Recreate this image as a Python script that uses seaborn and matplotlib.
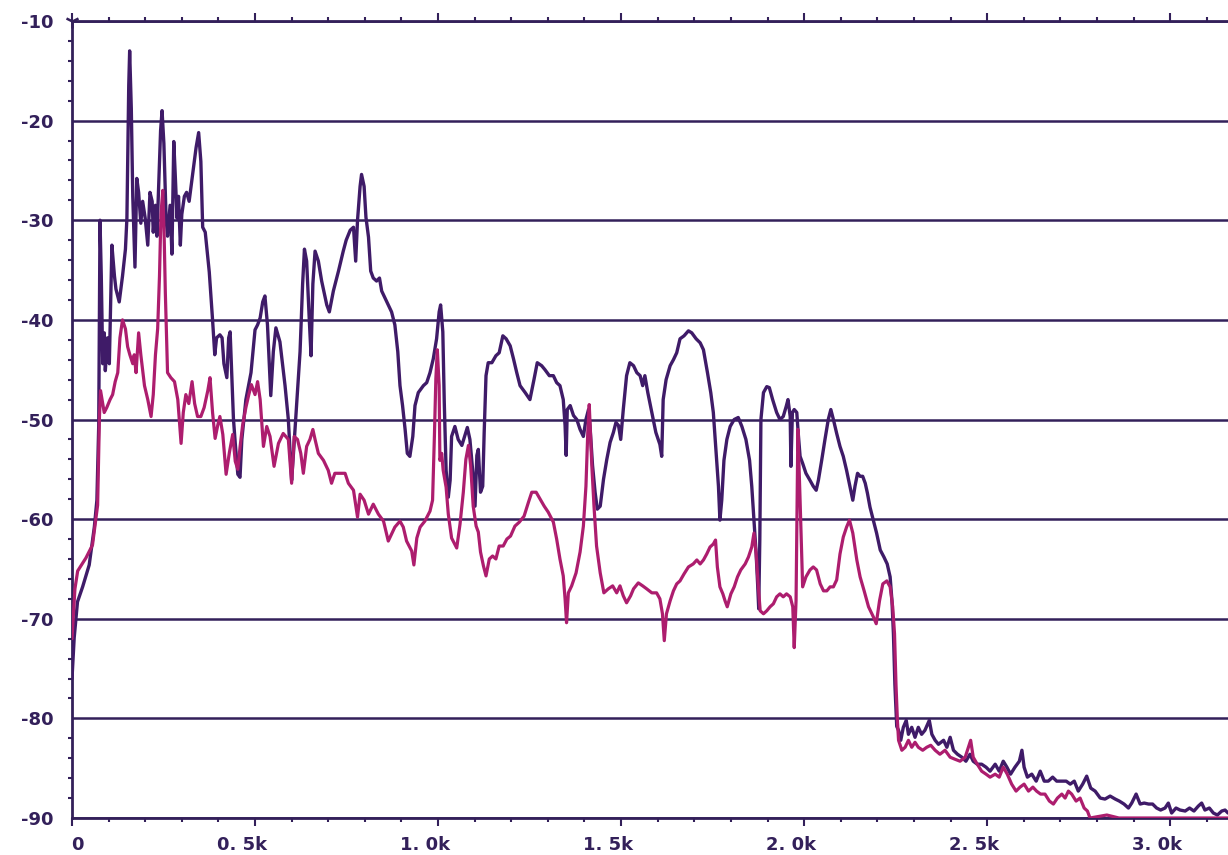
import matplotlib
matplotlib.use("Agg")
import matplotlib.pyplot as plt
import matplotlib.transforms as mtransforms
from matplotlib.ticker import MultipleLocator
import pandas as pd
import seaborn as sns

# upper (dark violet) trace, frequency in Hz / level in dB
freq_a = [0, 6, 15, 29, 47, 61, 68, 73, 75, 76.5, 80, 84, 88, 91, 97, 102, 109, 116, 120, 129,
          138, 146, 150, 155, 157.5, 162, 166, 172, 177, 182, 188, 193, 200, 207, 213, 219, 222,
          228, 232, 237, 242, 246, 251, 257, 261, 268, 273, 278, 282, 287, 291, 296, 300, 307,
          313, 320, 328, 339, 346, 352, 357, 364, 375, 384, 390, 395, 404, 410, 415, 423, 428,
          432, 441, 446, 453, 459, 464, 475, 489, 500, 507, 514, 521, 527, 534, 543, 550, 557,
          568, 582, 591, 600, 605, 614, 623, 630, 635, 641, 648, 653, 658, 664, 673, 682, 696,
          703, 714, 728, 741, 749, 760, 769, 775, 780, 787, 791, 798, 803, 810, 816, 823, 832,
          840, 846, 855, 864, 873, 882, 890, 896, 903, 910, 916, 923, 931, 937, 946, 960, 969,
          978, 987, 996, 1003, 1007, 1013, 1017, 1022, 1028, 1033, 1037, 1046, 1055, 1065, 1080,
          1087, 1095, 1101, 1106, 1110, 1116, 1122, 1126, 1131, 1137, 1147, 1158, 1167, 1177,
          1186, 1197, 1206, 1215, 1224, 1238, 1251, 1262, 1271, 1283, 1292, 1304, 1315, 1324,
          1333, 1342, 1347, 1350, 1353, 1361, 1370, 1379, 1388, 1397, 1404, 1411, 1415, 1422,
          1429, 1435, 1443, 1452, 1461, 1470, 1479, 1486, 1493, 1499, 1506, 1515, 1524, 1534,
          1543, 1552, 1559, 1565, 1573, 1584, 1595, 1606, 1611, 1615, 1623, 1634, 1643, 1652,
          1661, 1672, 1684, 1693, 1705, 1716, 1725, 1736, 1745, 1752, 1759, 1766, 1770, 1775,
          1781, 1789, 1798, 1809, 1820, 1830, 1841, 1851, 1857, 1863, 1869, 1873, 1876, 1879,
          1882, 1889, 1898, 1905, 1914, 1925, 1934, 1943, 1951, 1956, 1962, 1964, 1968, 1973,
          1980, 1984, 1989, 1996, 2005, 2016, 2025, 2033, 2039, 2048, 2057, 2066, 2073, 2080,
          2089, 2098, 2107, 2116, 2125, 2133, 2139, 2146, 2153, 2160, 2167, 2173, 2180, 2189,
          2198, 2208, 2218, 2227, 2235, 2240, 2244, 2248, 2253, 2258, 2264, 2271, 2279, 2285,
          2294, 2303, 2312, 2321, 2330, 2342, 2349, 2358, 2367, 2381, 2390, 2399, 2408, 2419,
          2431, 2442, 2453, 2462, 2473, 2485, 2497, 2508, 2522, 2533, 2544, 2554, 2564, 2576,
          2588, 2595, 2601, 2610, 2622, 2634, 2645, 2656, 2667, 2679, 2690, 2704, 2716, 2727,
          2738, 2749, 2761, 2772, 2783, 2795, 2809, 2822, 2836, 2850, 2861, 2874, 2886, 2895,
          2907, 2918, 2929, 2941, 2952, 2963, 2974, 2986, 2995, 3004, 3016, 3027, 3041, 3053,
          3065, 3077, 3086, 3095, 3107, 3118, 3129, 3141, 3150, 3158]
level_a = [-76, -71.9, -68.3, -66.8, -64.6, -60.8, -58.1, -50.6, -39.1, -30.0, -35.6, -44.4, -41.3,
           -45.1, -41.8, -44.4, -32.5, -35.6, -36.9, -38.2, -35.6, -32.9, -29.8, -16.5, -13.0,
           -18.8, -27.6, -34.7, -25.8, -27.2, -30.3, -28.1, -29.8, -32.5, -27.2, -28.1, -31.2,
           -28.5, -31.6, -26.3, -21.0, -19.0, -22.3, -29.8, -31.6, -28.5, -33.4, -22.1, -25.4,
           -29.8, -27.6, -32.5, -29.4, -27.6, -27.2, -28.1, -25.8, -22.7, -21.2, -24.1, -30.7,
           -31.2, -35.2, -40.0, -43.5, -41.8, -41.5, -41.8, -44.4, -45.8, -41.8, -41.2, -49.9,
           -52.4, -55.5, -55.8, -52.0, -48.0, -45.3, -41.0, -40.5, -39.8, -38.2, -37.6, -40.5,
           -47.6, -43.2, -40.8, -42.2, -46.6, -50.0, -56.1, -53.4, -48.3, -43.2, -36.4, -32.9,
           -34.1, -39.8, -43.6, -36.4, -33.1, -34.1, -36.1, -38.5, -39.2, -37.1, -35.1, -33.1,
           -32.0, -31.0, -30.7, -34.1, -30.0, -26.6, -25.4, -26.6, -29.7, -31.7, -35.1, -35.8,
           -36.1, -35.8, -37.1, -37.8, -38.5, -39.2, -40.5, -43.2, -46.6, -48.6, -51.0, -53.4,
           -53.7, -51.7, -48.6, -47.3, -46.6, -46.3, -45.3, -43.9, -41.9, -39.2, -38.5, -41.2,
           -48.3, -55.1, -57.8, -56.1, -51.7, -50.7, -52.0, -52.6, -50.8, -52.0, -55.3, -58.7,
           -53.6, -53.0, -57.3, -56.7, -51.3, -45.6, -44.3, -44.3, -43.6, -43.3, -41.6, -41.9,
           -42.6, -43.9, -45.3, -46.6, -47.3, -48.0, -46.0, -44.3, -44.6, -45.0, -45.6, -45.6,
           -46.3, -46.6, -48.0, -50.6, -53.6, -49.0, -48.6, -49.6, -50.0, -51.0, -51.7, -50.0,
           -49.0, -50.6, -54.6, -57.3, -59.0, -58.7, -56.0, -54.0, -52.3, -51.3, -50.3, -50.6,
           -52.0, -49.0, -45.6, -44.3, -44.6, -45.3, -45.6, -46.6, -45.6, -47.3, -49.3, -51.3,
           -52.5, -53.7, -48.0, -46.0, -44.6, -44.0, -43.3, -41.9, -41.6, -41.1, -41.3, -41.9,
           -42.3, -43.0, -45.3, -47.3, -49.3, -53.0, -56.7, -60.1, -58.1, -54.1, -52.0, -50.7,
           -50.0, -49.8, -50.7, -52.0, -54.1, -56.7, -60.1, -63.5, -66.5, -69.0, -62.0, -50.0,
           -47.3, -46.7, -46.8, -48.0, -49.3, -50.0, -49.7, -48.7, -48.0, -49.7, -54.7, -49.3,
           -49.0, -49.3, -51.4, -53.7, -54.4, -55.4, -56.1, -56.7, -57.1, -56.1, -54.1, -52.0,
           -50.0, -49.0, -50.0, -51.4, -52.7, -53.7, -55.1, -56.7, -58.1, -56.7, -55.4, -55.7,
           -55.7, -56.4, -57.4, -58.8, -60.1, -61.4, -63.1, -63.8, -64.5, -65.8, -68.2, -71.5,
           -76.6, -80.8, -81.2, -82.2, -80.9, -80.2, -81.6, -80.9, -81.9, -80.9, -81.6, -81.2,
           -80.2, -81.6, -82.2, -82.6, -82.2, -82.9, -81.9, -83.2, -83.6, -83.9, -84.3, -83.6,
           -84.3, -84.6, -84.6, -84.9, -85.3, -84.6, -85.3, -84.3, -84.9, -85.6, -84.9, -84.3,
           -83.2, -84.9, -85.9, -85.6, -86.3, -85.3, -86.3, -86.3, -85.9, -86.3, -86.3, -86.3,
           -86.6, -86.3, -87.3, -86.6, -85.8, -87.0, -87.3, -88.0, -88.1, -87.8, -88.1, -88.3,
           -88.6, -89.0, -88.5, -87.6, -88.6, -88.5, -88.6, -88.6, -89.0, -89.2, -89.0, -88.5,
           -89.5, -89.0, -89.2, -89.3, -89.0, -89.3, -88.8, -88.5, -89.2, -89.0, -89.5, -89.7,
           -89.3, -89.2, -89.5]

# lower (magenta) trace
freq_b = [0, 8, 15.5, 38, 56, 70, 75, 78, 82, 88, 95, 104, 111, 118, 125, 131, 138, 146, 152, 158,
          166, 170, 175, 182, 188, 198, 207, 216, 222, 228, 234, 239, 243, 248, 252, 255, 261, 270,
          280, 289, 298, 304, 311, 319, 328, 335, 343, 352, 361, 371, 377, 384, 391, 398, 404,
          412, 421, 430, 439, 446, 453, 459, 466, 475, 483, 490, 500, 507, 514, 523, 532, 541,
          552, 564, 577, 591, 600, 607, 616, 625, 632, 641, 650, 658, 664, 673, 687, 700, 709,
          718, 732, 746, 755, 769, 780, 787, 798, 810, 823, 837, 851, 864, 873, 882, 896, 905,
          914, 928, 934, 942, 951, 964, 978, 985, 990, 994, 998, 1003, 1005, 1010, 1014, 1022,
          1028, 1037, 1051, 1060, 1069, 1076, 1083, 1089, 1096, 1104, 1110, 1116, 1124, 1131,
          1140, 1149, 1158, 1167, 1178, 1188, 1198, 1210, 1222, 1235, 1247, 1256, 1268, 1279,
          1290, 1301, 1315, 1324, 1333, 1342, 1347, 1351, 1356, 1365, 1377, 1388, 1397, 1404,
          1409, 1413, 1420, 1426, 1433, 1443, 1453, 1465, 1477, 1488, 1497, 1506, 1515, 1526,
          1534, 1547, 1559, 1570, 1584, 1597, 1606, 1613, 1618, 1624, 1634, 1643, 1652, 1661,
          1672, 1684, 1697, 1707, 1716, 1725, 1734, 1743, 1752, 1758, 1763, 1770, 1778, 1784,
          1790, 1800, 1809, 1818, 1827, 1839, 1848, 1857, 1863, 1869, 1875, 1880, 1889, 1898,
          1907, 1916, 1925, 1934, 1943, 1952, 1962, 1969, 1973, 1978, 1981, 1983, 1989, 1996,
          2005, 2016, 2025, 2034, 2044, 2053, 2062, 2071, 2080, 2089, 2098, 2107, 2116, 2124,
          2133, 2144, 2153, 2164, 2176, 2189, 2197, 2206, 2215, 2226, 2235, 2242, 2247, 2251,
          2255, 2258, 2267, 2276, 2285, 2294, 2303, 2312, 2324, 2335, 2346, 2358, 2371, 2385,
          2399, 2412, 2426, 2440, 2449, 2455, 2462, 2473, 2485, 2497, 2508, 2522, 2533, 2544,
          2555, 2567, 2579, 2590, 2601, 2613, 2625, 2635, 2646, 2658, 2670, 2681, 2692, 2704,
          2713, 2722, 2731, 2743, 2754, 2765, 2774, 2781, 2827, 2860, 2950, 3050, 3158]
level_b = [-72, -67, -65.2, -63.9, -62.6, -58.6, -49.7, -47.1, -48.0, -49.3, -48.8, -48.0, -47.5,
           -46.2, -45.3, -41.8, -40.0, -40.9, -42.7, -43.5, -44.4, -43.5, -45.3, -41.3, -43.5,
           -46.6, -48.0, -49.7, -47.5, -43.5, -40.9, -35.6, -29.4, -27.0, -32.0, -37.3, -45.3,
           -45.8, -46.2, -48.0, -52.4, -49.3, -47.5, -48.4, -46.2, -48.4, -49.7, -49.7, -48.8,
           -47.1, -45.8, -49.3, -51.9, -50.6, -49.7, -51.5, -55.5, -53.3, -51.5, -54.2, -55.0,
           -52.8, -50.6, -48.8, -47.5, -46.5, -47.5, -46.2, -48.0, -52.7, -50.7, -51.7, -54.7,
           -52.4, -51.4, -52.0, -56.4, -51.7, -52.0, -53.4, -55.4, -52.7, -52.0, -51.0, -52.0,
           -53.4, -54.1, -55.1, -56.4, -55.4, -55.4, -55.4, -56.4, -57.1, -59.8, -57.5, -58.1,
           -59.5, -58.5, -59.5, -60.2, -62.2, -61.5, -60.8, -60.2, -60.8, -62.2, -63.2, -64.6,
           -61.9, -60.8, -60.2, -59.2, -58.1, -51.7, -45.9, -43.0, -46.6, -54.1, -53.4, -55.1,
           -56.8, -59.5, -61.9, -62.9, -60.5, -57.3, -54.0, -52.6, -54.6, -58.7, -60.7, -61.3,
           -63.3, -64.7, -65.7, -64.0, -63.7, -64.0, -62.7, -62.7, -62.0, -61.7, -60.7, -60.3,
           -59.7, -58.3, -57.3, -57.3, -58.0, -58.7, -59.3, -60.3, -62.0, -64.0, -65.7, -68.0,
           -70.4, -67.4, -66.7, -65.4, -63.3, -60.7, -56.7, -51.3, -48.5, -54.6, -58.7, -62.7,
           -65.4, -67.4, -67.0, -66.7, -67.4, -66.7, -67.7, -68.4, -67.7, -67.0, -66.4, -66.7,
           -67.0, -67.4, -67.4, -68.0, -69.5, -72.2, -69.5, -68.2, -67.2, -66.5, -66.2, -65.5,
           -64.8, -64.5, -64.1, -64.5, -64.1, -63.5, -62.8, -62.5, -62.1, -64.8, -66.8, -67.5,
           -68.2, -68.8, -67.5, -66.8, -65.8, -65.1, -64.5, -63.8, -62.8, -61.4, -63.5, -66.8,
           -69.2, -69.5, -69.2, -68.8, -68.5, -67.8, -67.5, -67.8, -67.5, -67.8, -68.8, -72.9,
           -68.2, -58.1, -51.0, -58.1, -66.8, -65.8, -65.1, -64.8, -65.1, -66.5, -67.2, -67.2,
           -66.8, -66.8, -66.1, -63.5, -61.8, -60.8, -60.1, -61.4, -64.1, -65.8, -67.2, -68.8,
           -69.8, -70.5, -68.2, -66.5, -66.2, -66.8, -68.8, -71.5, -76.6, -80.3, -82.2, -83.2,
           -82.9, -82.2, -82.9, -82.4, -82.9, -83.2, -82.9, -82.7, -83.2, -83.6, -83.2, -83.9,
           -84.1, -84.3, -83.9, -82.9, -82.2, -83.9, -84.6, -85.3, -85.6, -85.9, -85.6, -85.9,
           -84.9, -85.6, -86.6, -87.3, -86.9, -86.6, -87.3, -86.9, -87.3, -87.6, -87.6, -88.3,
           -88.6, -88.0, -87.6, -88.0, -87.3, -87.6, -88.3, -88.0, -89.0, -89.3, -90.0, -89.7,
           -90.0, -90.0, -90.0, -90.0]

y_ticks = [-10, -20, -30, -40, -50, -60, -70, -80, -90]
x_ticks = [0, 500, 1000, 1500, 2000, 2500, 3000]
x_labels = ["0", "0. 5k", "1. 0k", "1. 5k", "2. 0k", "2. 5k", "3. 0k"]

dark = "#3f1b68"
magenta = "#ad1d6e"
ink = "#33205a"

sns.set_theme(style="white")
plt.rcParams["font.family"] = ["DejaVu Sans"]

fig = plt.figure(figsize=(12.28, 8.55), dpi=100)
ax = fig.add_axes([72 / 1228, 37 / 855, 1 - 72 / 1228, 797 / 855])

df_a = pd.DataFrame({"freq": freq_a, "level": level_a})
df_b = pd.DataFrame({"freq": freq_b, "level": level_b})
sns.lineplot(data=df_a, x="freq", y="level", color=dark, linewidth=2.4,
             estimator=None, sort=False, ax=ax, zorder=3)
sns.lineplot(data=df_b, x="freq", y="level", color=magenta, linewidth=2.3,
             estimator=None, sort=False, ax=ax, zorder=3)

ax.set_xlim(0, 3158)
ax.set_ylim(-90, -10)
ax.set_xlabel("")
ax.set_ylabel("")

# horizontal grid every 10 dB
ax.set_yticks(y_ticks)
ax.set_yticklabels([str(v) for v in y_ticks])
ax.yaxis.set_minor_locator(MultipleLocator(2))
ax.grid(axis="y", color=ink, linewidth=1.8, zorder=1)
ax.grid(axis="x", visible=False)

ax.set_xticks(x_ticks)
ax.set_xticklabels(x_labels)
ax.xaxis.set_minor_locator(MultipleLocator(100))

for side in ["left", "top", "bottom"]:
    ax.spines[side].set_color(ink)
    ax.spines[side].set_linewidth(2)
ax.spines["right"].set_visible(False)

ax.tick_params(axis="y", which="major", length=4, width=1.5, color=ink, pad=9,
               labelsize=13, labelcolor=ink, direction="out")
ax.tick_params(axis="y", which="minor", left=True, length=3, width=1.5, color=ink,
               direction="out")
ax.tick_params(axis="x", which="major", bottom=True, top=True, length=6, width=1.5,
               color=ink, pad=7, labelsize=13, labelcolor=ink, direction="out")
ax.tick_params(axis="x", which="minor", bottom=True, top=True, length=3, width=1.5,
               color=ink, direction="out")

for lab in ax.get_yticklabels() + ax.get_xticklabels():
    lab.set_fontweight("bold")

# plotter labels sit just left of their tick
shift = mtransforms.ScaledTranslation(0.12, 0, fig.dpi_scale_trans)
for lab in ax.get_xticklabels():
    lab.set_horizontalalignment("right")
    lab.set_transform(lab.get_transform() + shift)

# little arrow head on top of the y axis
ax.plot([0], [-10], marker="1", markersize=10, markeredgewidth=1.8, color=ink,
        clip_on=False, zorder=5)

fig.savefig("out.png", dpi=100, facecolor="white")
